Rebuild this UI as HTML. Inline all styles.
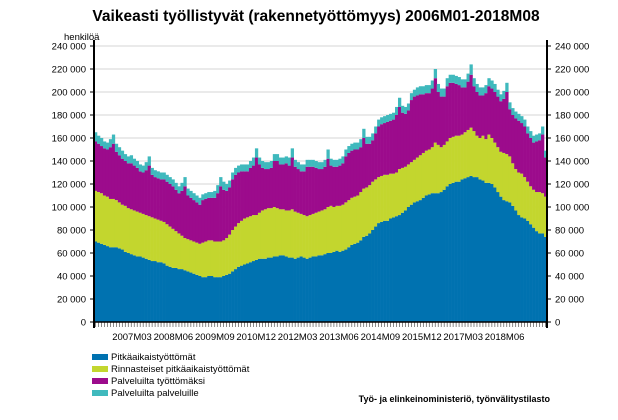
<!DOCTYPE html>
<html><head><meta charset="utf-8">
<style>
body{margin:0;background:#fff;font-family:"Liberation Sans",sans-serif;}
svg{display:block}
</style></head>
<body>
<svg id="chart" width="618" height="420" viewBox="0 0 618 420">
<text x="316" y="21" text-anchor="middle" font-size="15.5" font-weight="bold" fill="#000">Vaikeasti työllistyvät (rakennetyöttömyys) 2006M01-2018M08</text>
<text x="64" y="40" font-size="9.5" fill="#000">henkilöä</text>
<g id="grid"></g><g id="bars"></g><g id="axes"></g>
<g font-size="9.5">
<rect x="92" y="354" width="16" height="6" fill="#0072b0"/>
<text x="111" y="360">Pitkäaikaistyöttömät</text>
<rect x="92" y="366" width="16" height="6" fill="#c3d62e"/>
<text x="111" y="372">Rinnasteiset pitkäaikaistyöttömät</text>
<rect x="92" y="378" width="16" height="6" fill="#9c0b8c"/>
<text x="111" y="384">Palveluilta työttömäksi</text>
<rect x="92" y="390" width="16" height="6" fill="#3fb9bd"/>
<text x="111" y="396">Palveluilta palveluille</text>
</g>
<text x="550" y="402" text-anchor="end" font-size="9" font-weight="bold">Työ- ja elinkeinoministeriö, työnvälitystilasto</text>
</svg>
<script>
const startYear = 2006;
const blue = [
70,69,68,67,66,65,65,65,64,63,61,60,
59,58,57,57,56,55,54,53,53,52,52,51,
49,48,47,47,46,46,45,44,43,42,41,40,
39,39,40,40,39,39,39,40,41,42,44,46,
48,49,50,51,52,53,54,55,55,55,56,56,
57,57,58,58,57,56,56,55,56,57,56,55,
56,57,57,58,58,59,60,60,61,62,61,62,
63,65,67,68,69,71,74,75,77,80,83,86,
87,88,88,90,91,92,93,95,97,100,102,104,
105,106,108,110,111,112,112,112,113,115,118,120,
121,122,122,124,125,126,127,126,126,124,123,121,
121,120,117,113,109,106,105,104,101,97,93,91,
90,88,85,82,79,77,77,74];
const green = [
44,44,44,43,43,42,42,41,40,39,40,39,
39,39,39,38,38,38,38,38,37,37,36,36,
36,35,34,32,31,29,28,28,28,28,28,28,
30,31,31,31,31,31,31,31,32,34,36,37,
38,39,40,40,40,40,39,40,42,43,43,43,
43,42,40,40,40,41,42,41,39,37,37,37,
37,37,38,38,39,39,40,41,39,39,40,40,
41,41,41,41,41,42,42,42,42,42,41,40,
40,40,40,39,38,38,40,39,38,37,37,37,
38,39,39,39,39,40,44,42,39,39,39,40,
40,40,40,39,40,41,42,40,36,36,39,38,
42,40,39,39,39,41,41,40,37,36,37,38,
36,34,33,33,34,36,35,35];
const purple = [
43,42,41,41,41,45,48,42,41,40,39,39,
40,39,38,36,36,39,44,37,36,36,36,37,
37,37,37,36,35,39,45,38,37,36,35,34,
37,37,37,37,38,42,48,44,41,41,44,45,
44,43,41,40,42,43,50,42,37,35,34,35,
40,41,39,39,41,39,45,39,38,37,38,43,
42,41,39,37,36,37,42,35,35,34,35,36,
40,41,41,41,40,39,44,38,36,36,40,44,
45,45,46,46,47,50,54,48,46,47,54,55,
54,53,51,50,49,51,56,46,44,42,48,48,
47,45,44,41,39,42,46,39,38,37,35,40,
42,43,44,44,44,47,54,41,42,44,45,44,
44,42,42,41,44,45,51,34];
const teal = [
8,7,7,6,6,7,8,7,7,7,6,6,
7,6,6,6,6,7,8,6,6,6,6,6,
6,6,6,6,6,7,8,6,6,6,6,6,
5,5,5,5,6,7,8,7,6,6,6,6,
6,6,6,6,6,7,8,6,6,6,6,6,
6,6,6,6,6,7,8,6,6,6,6,6,
6,6,6,6,6,6,8,6,6,6,6,6,
6,6,6,6,6,7,8,6,6,6,6,6,
6,6,6,6,6,7,8,6,6,6,6,6,
7,7,7,7,7,7,8,7,7,7,7,7,
7,7,7,7,7,7,9,7,7,7,7,7,
7,7,7,6,6,7,8,6,6,6,6,6,
6,6,6,6,6,6,7,6];
const yTicks = [0,20,40,60,80,100,120,140,160,180,200,220,240];
const xLabels = ["2007M03","2008M06","2009M09","2010M12","2012M03","2013M06","2014M09","2015M12","2017M03","2018M06"];

const NS="http://www.w3.org/2000/svg";
const X0=94, X1=547, Y0=322, Y1=46, YMAX=240;
const n = blue.length;
const step=(X1-X0)/n;
function y(v){return Y0-(v/YMAX)*(Y0-Y1);}
function x(i){return X0+i*step;}
function mk(tag,attrs,parent){const e=document.createElementNS(NS,tag);for(const k in attrs)e.setAttribute(k,attrs[k]);parent.appendChild(e);return e;}
const grid=document.getElementById('grid'), bars=document.getElementById('bars'), axes=document.getElementById('axes');
function fmt(v){const s=String(v*1000);return s.length>3?s.slice(0,-3)+' '+s.slice(-3):s;}
yTicks.forEach(t=>{
  if(t>0){const g=mk('line',{x1:X0,x2:X1,y1:y(t),y2:y(t),stroke:'#d4d4d4','stroke-width':1},grid);
  
  }
  const l=mk('text',{x:X0-8,y:y(t)+3.5,'text-anchor':'end','font-size':9.5},axes);l.textContent=fmt(t);
  
  
  const r=mk('text',{x:X1+8,y:y(t)+3.5,'font-size':9.5},axes);r.textContent=fmt(t);
  
  
  mk('line',{x1:X0-4,x2:X0,y1:y(t),y2:y(t),stroke:'#000'},axes);
  mk('line',{x1:X1,x2:X1+4,y1:y(t),y2:y(t),stroke:'#000'},axes);
});
const series=[[blue,'#0072b0','pitkaaikais'],[green,'#c3d62e','rinnasteiset'],[purple,'#9c0b8c','palveluilta-tyottomaksi'],[teal,'#3fb9bd','palveluilta-palveluille']];
for(let i=0;i<n;i++){
  let base=0;
  series.forEach(([arr,col,nm])=>{
    const v=arr[i];
    const r=mk('rect',{x:x(i),y:y(base+v),width:step+0.3,height:y(base)-y(base+v),fill:col},bars);
    
    
    base+=v;
  });
  mk('line',{x1:x(i)+step/2,x2:x(i)+step/2,y1:Y0,y2:Y0+5,stroke:'#555','stroke-width':0.7},axes);
}
mk('line',{x1:X0,x2:X0,y1:Y1-6,y2:Y0+6,stroke:'#000','stroke-width':2},axes);
mk('line',{x1:X1,x2:X1,y1:Y1-6,y2:Y0+6,stroke:'#000','stroke-width':2},axes);
mk('line',{x1:X0,x2:X1,y1:Y0,y2:Y0,stroke:'#000','stroke-width':1.5},axes);
xLabels.forEach((s,k)=>{
  const t=mk('text',{x:132+k*41.4,y:340,'text-anchor':'middle','font-size':9.5},axes);
  t.textContent=s;
  
  
});
</script>
</body></html>
